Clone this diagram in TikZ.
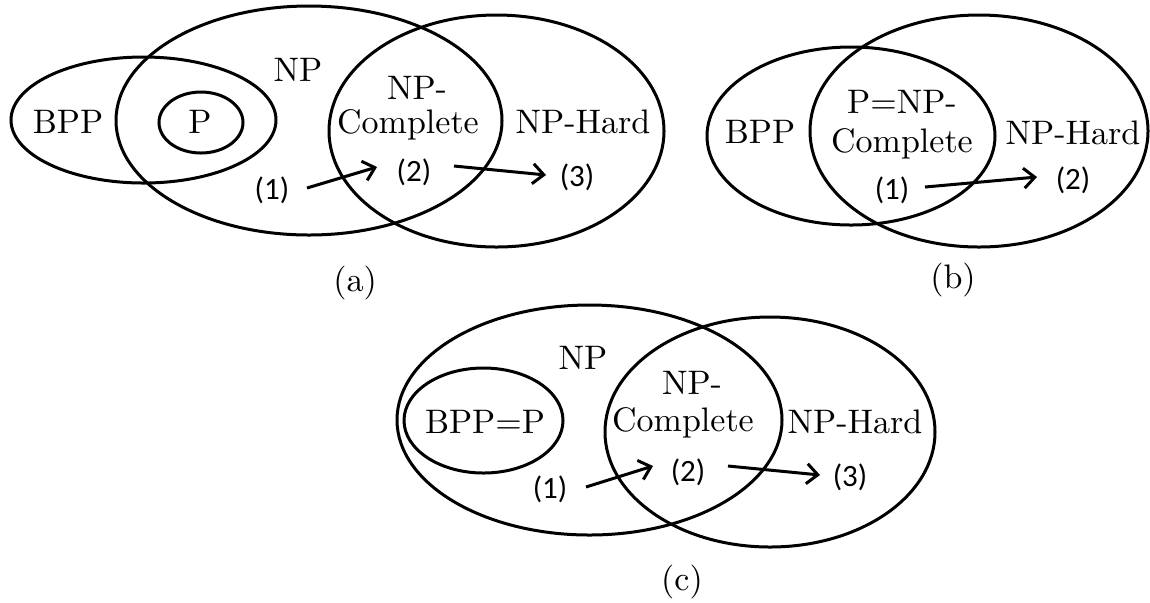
\documentclass[tikz,border=0pt]{standalone}
\usepackage{fontspec}
\newfontfamily\numfont{Carlito}
\newfontfamily\lmten{lmroman10-regular}[Extension=.otf]
\usetikzlibrary{shapes.geometric,arrows.meta}
\tikzset{
  set/.style 2 args={ellipse, draw, line width=1.5pt, minimum width=#1pt,
    minimum height=#2pt, inner sep=0pt, outer sep=0pt},
  lbl/.style={font=\lmten\fontsize{17}{20}\selectfont, inner sep=0pt},
  num/.style={font=\numfont\fontsize{15.5}{18}\selectfont, inner sep=0pt},
  arr/.style={line width=1.5pt, -{Straight Barb[length=5.5pt,width=10pt]}}
}
\begin{document}
\begin{tikzpicture}[x=0.5pt,y=-0.5pt]
\useasboundingbox (0,0) rectangle (1150,602);

% ---------- (a) ----------
\node[set={132.5}{63}]   (aBPP) at (143.5,120) {};
\node[set={42}{30.5}]    (aP)   at (201,122.5) {};
\node[set={193}{114.5}]  (aNP)  at (309,120.5) {};
\node[set={167.5}{116}]  (aNPH) at (496.5,131) {};
\node[lbl] (aBPPt) at (68,122)  {BPP};
\node[lbl] (aPt)   at (200,122) {P};
\node[lbl] (aNPt)  at (298,70)  {NP};
\node[lbl] (aNPCa) at (417,88)  {NP-};
\node[lbl] (aNPCb) at (408,125) {Complete};
\node[lbl] (aNPHt) at (583,122) {NP-Hard};
\node[num] (a1) at (272,190) {(1)};
\node[num] (a2) at (414,172) {(2)};
\node[num] (a3) at (577,177) {(3)};
\draw[arr] ([shift={(35,-2)}]a1.center) -- ([shift={(-37,-5)}]a2.center);
\draw[arr] ([shift={(40,-6)}]a2.center) -- ([shift={(-31,-2)}]a3.center);
\node[lbl] (acap) at (355,283) {(a)};

% ---------- (b) ----------
\node[set={144}{89}]  (bBPP) at (851,136) {};
\node[set={169}{116}] (bNPH) at (979,131) {};
\node[lbl] (bBPPt) at (760,132)  {BPP};
\node[lbl] (bPNPa) at (902,102)  {P=NP-};
\node[lbl] (bPNPb) at (902,144)  {Complete};
\node[lbl] (bNPHt) at (1073,133) {NP-Hard};
\node[num] (b1) at (892,190)  {(1)};
\node[num] (b2) at (1073,180) {(2)};
\draw[arr] ([shift={(33,-3)}]b1.center) -- ([shift={(-36,-3)}]b2.center);
\node[lbl] (bcap) at (953,280) {(b)};

% ---------- (c) ----------
\node[set={192.5}{115}] (cNP)  at (589.5,420) {};
\node[set={165}{115}]   (cNPH) at (770,432) {};
\node[set={79.5}{52.5}] (cBPP) at (483.5,420.5) {};
\node[lbl] (cBPPt) at (485,422) {BPP=P};
\node[lbl] (cNPt)  at (583,358) {NP};
\node[lbl] (cNPCa) at (692,383) {NP-};
\node[lbl] (cNPCb) at (683,423) {Complete};
\node[lbl] (cNPHt) at (855,422) {NP-Hard};
\node[num] (c1) at (550,489) {(1)};
\node[num] (c2) at (688,472) {(2)};
\node[num] (c3) at (850,477) {(3)};
\draw[arr] ([shift={(36,-2)}]c1.center) -- ([shift={(-35,-6)}]c2.center);
\draw[arr] ([shift={(40,-6)}]c2.center) -- ([shift={(-30,-2)}]c3.center);
\node[lbl] (ccap) at (682,582) {(c)};
\end{tikzpicture}
\end{document}
